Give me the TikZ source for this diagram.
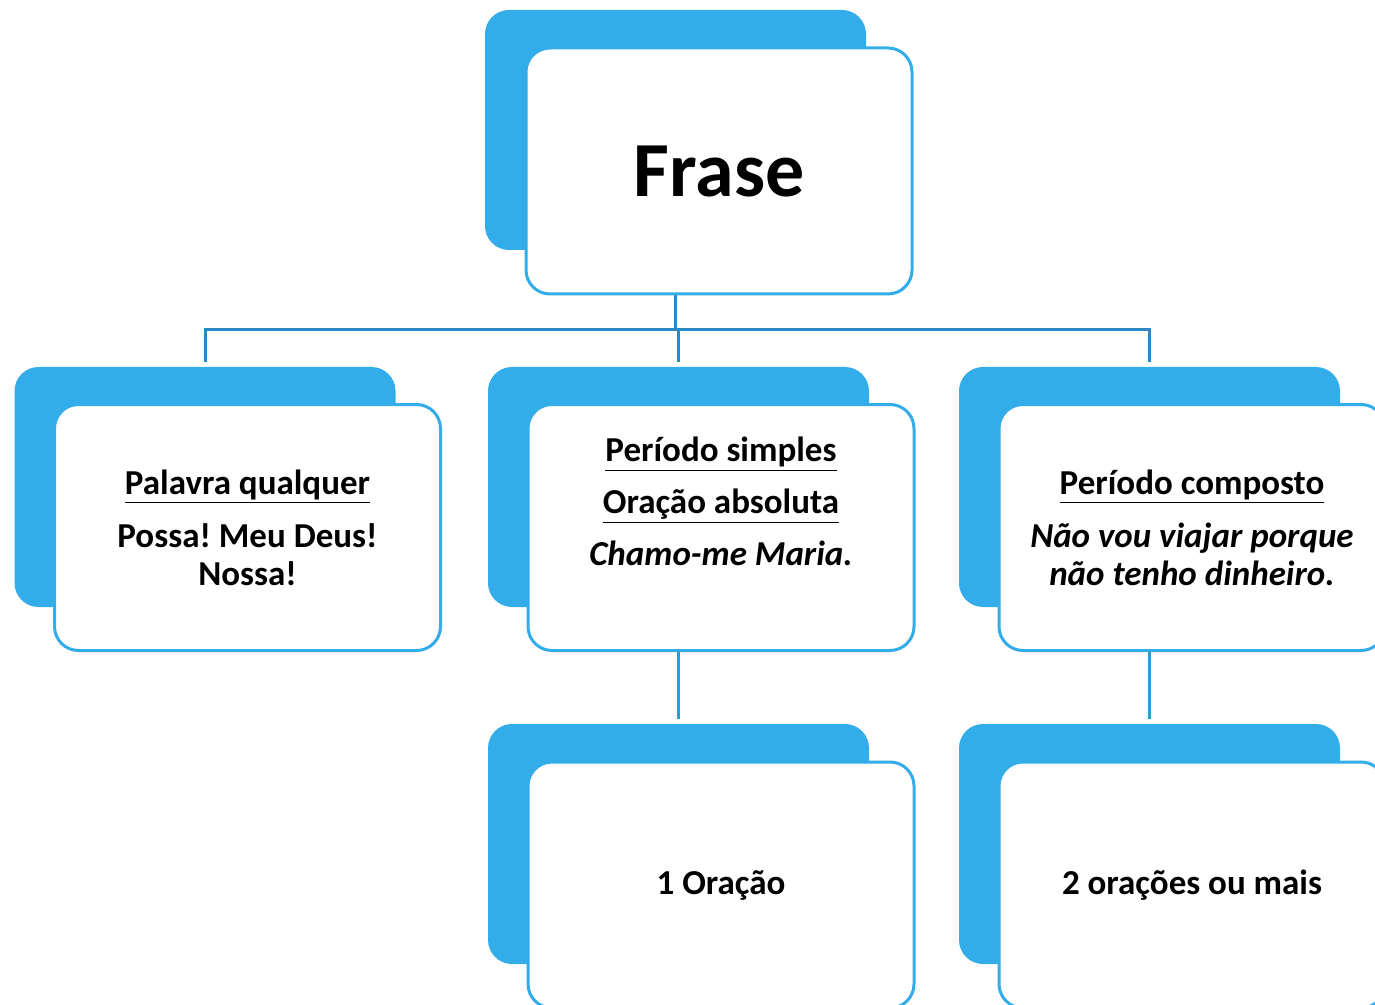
\documentclass[tikz,border=0pt]{standalone}
\usepackage{fontspec}
\setmainfont{Carlito}
\usepackage{tikz}
\usepackage{xcolor}
\usetikzlibrary{positioning,calc}

\definecolor{boxblue}{RGB}{51,173,234}
\definecolor{linkblue}{RGB}{43,136,196}
\frenchspacing

\begin{document}
\begin{tikzpicture}[x=0.5pt, y=-0.5pt,
        backbox/.style={fill=boxblue, rounded corners=12pt, minimum width=190.5pt, minimum height=120pt, inner sep=0pt},
        frontbox/.style={draw=boxblue, fill=white, line width=1.5pt, rounded corners=12pt, minimum width=193pt, minimum height=123pt, align=center, font=\bfseries\fontsize{17.5}{19}\selectfont},
        link/.style={draw=linkblue, line width=1.5pt},
        sublink/.style={draw=boxblue!90!black, line width=1.5pt}]
        \useasboundingbox (0,0) rectangle (1375,1005);
        \clip (0,0) rectangle (1375,1005);

        % Frase
        \node [backbox] (fraseback) at (675.5,130) {};
        \node [frontbox, font=\bfseries\fontsize{39}{44}\selectfont] (frase) at ([shift={(43.5,41)}]fraseback.center) {Frase};

        % Palavra qualquer
        \node [backbox] (palavraback) at (205,487) {};
        \node [frontbox] (palavra) at ([shift={(42.5,40.5)}]palavraback.center) {\underline{Palavra qualquer}\\[7.5pt] Possa! Meu Deus!\\ Nossa!};

        % Periodo simples
        \node [backbox] (simplesback) at (678.5,487) {};
        \node [frontbox] (simples) at ([shift={(42.5,40.5)}]simplesback.center) {\underline{Período simples}\\[7pt] \underline{Oração absoluta}\\[7pt] \textit{Chamo-me Maria.}\\[7pt] \mbox{}};

        % Periodo composto
        \node [backbox] (compostoback) at (1149.5,487) {};
        \node [frontbox] (composto) at ([shift={(42.5,40.5)}]compostoback.center) {\underline{Período composto}\\[7.5pt] \textit{Não vou viajar porque}\\ \textit{não tenho dinheiro.}};

        % 1 Oracao
        \node [backbox] (umaback) at (678.5,844) {};
        \node [frontbox] (uma) at ([shift={(42.5,41)}]umaback.center) {1 Oração};

        % 2 oracoes ou mais
        \node [backbox] (duasback) at (1149.5,844) {};
        \node [frontbox] (duas) at ([shift={(42.5,41)}]duasback.center) {2 orações ou mais};

        % connectors
        \coordinate (bar) at ($(frase.south)+(0,34)$);
        \draw [link] (fraseback.center |- frase.south) -- (fraseback.center |- bar);
        \draw [link] ($(palavraback.north)+(0,-5)$) |- (bar) -| ($(compostoback.north)+(0,-5)$);
        \draw [link] (simplesback.center |- bar) -- ($(simplesback.north)+(0,-5)$);
        \draw [sublink] (simplesback.center |- simples.south) -- ($(umaback.north)+(0,-5)$);
        \draw [sublink] (compostoback.center |- composto.south) -- ($(duasback.north)+(0,-5)$);
    \end{tikzpicture}
\end{document}
